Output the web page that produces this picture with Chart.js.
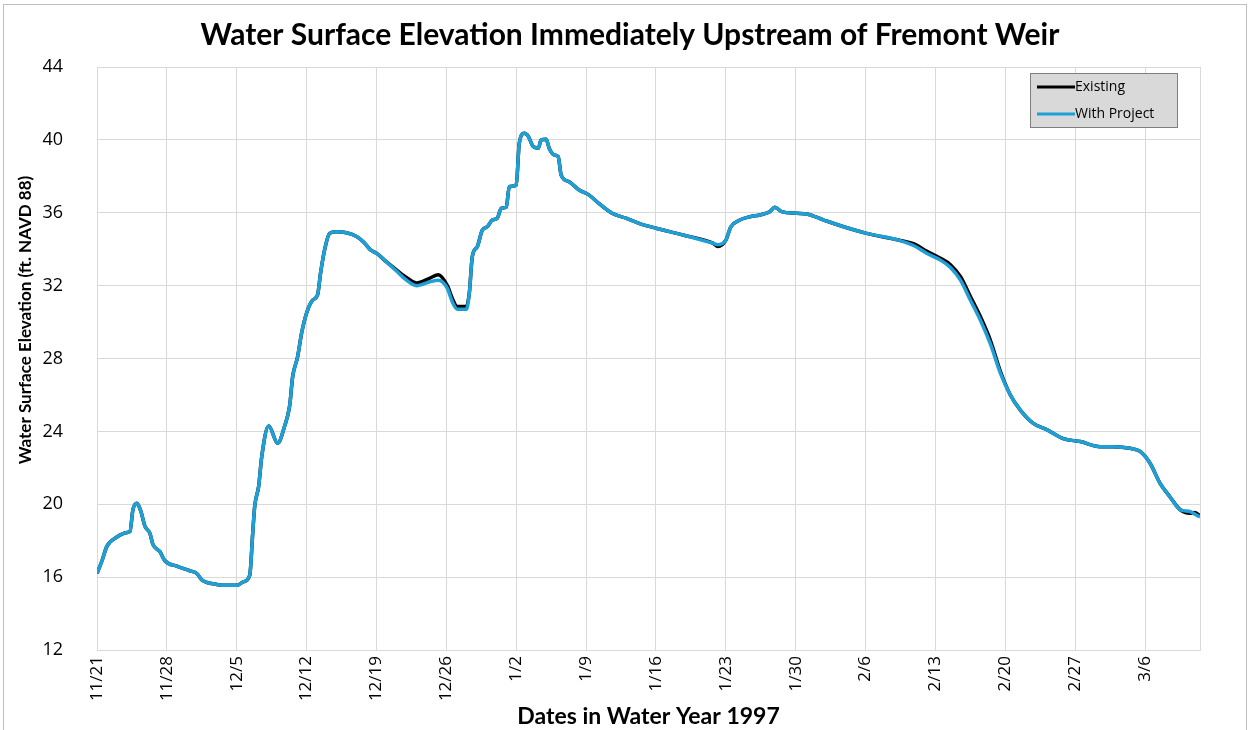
<!DOCTYPE html>
<html>
<head>
<meta charset="utf-8">
<title>Water Surface Elevation Immediately Upstream of Fremont Weir</title>
<script src="https://cdn.jsdelivr.net/npm/chart.js@4.4.1/dist/chart.umd.min.js"></script>
<style>
  html, body { margin: 0; padding: 0; background: #fff; overflow: hidden; }
  #chartWse { display: block; }
</style>
</head>
<body>
<canvas id="chartWse" width="1249" height="730"></canvas>
<script>
// days since 11/21/1996
const days = [
  0, 0.5, 1, 2, 3, 3.3, 3.6, 4.0, 4.4, 4.8, 5.3, 5.6, 6.3, 6.8, 8.0, 9.3, 10.0, 10.5, 12, 13, 14,
  14.7, 15.3, 15.6, 15.8, 16.2, 16.5, 17.2, 18.1, 18.8, 19.3, 19.6, 20.1, 20.5, 21.0, 21.6, 22.1,
  22.4, 22.8, 23.3, 24.0, 25.0, 26, 26.7, 27.4, 28, 29, 30, 31, 32, 33.3, 34.2, 35.1, 35.6, 36.1,
  37, 37.3, 37.6, 38.1, 38.6, 39.1, 39.6, 40.1, 40.5, 41, 41.3, 42, 42.3, 42.8, 43.2, 43.7, 44.2,
  44.5, 45, 45.3, 45.8, 46.2, 46.5, 47.3, 48.3, 49.3, 50.3, 51.6, 53, 54.3, 56, 58.7, 61.7, 62.2,
  63, 63.5, 64.4, 65.4, 66.4, 67.4, 67.9, 68.6, 70.1, 71.1, 72.8, 74.8, 77.1, 80.3, 81.8, 83.1,
  84.5, 85.5, 86.5, 87.5, 88.5, 89.5, 90.5, 91.5, 92.5, 93.8, 95.2, 96.8, 98.5, 100.5, 101.8,
  103.5, 104.5, 105.5, 106.5, 107.5, 108.5, 109.5, 110, 110.5
];

const withProject = [
  16.2, 16.9, 17.7, 18.2, 18.45, 18.5, 19.7, 20.05, 19.6, 18.8, 18.4, 17.8, 17.4, 16.9, 16.6, 16.35, 16.2, 15.85, 15.6, 15.55, 15.55,
  15.75, 16.1, 18.4, 19.9, 21.0, 22.6, 24.3, 23.35, 24.3, 25.4, 27.0, 28.1, 29.4, 30.5, 31.2, 31.5,
  32.7, 33.96, 34.87, 34.96, 34.9, 34.7, 34.4, 33.96, 33.78, 33.3, 32.8, 32.3, 32.0, 32.2, 32.3, 31.85, 31.1, 30.7,
  30.7, 31.58, 33.6, 34.14, 35.05, 35.23, 35.6, 35.7, 36.25, 36.3, 37.43, 37.52, 39.8, 40.36, 40.2, 39.63, 39.54,
  40.0, 40.03, 39.54, 39.17, 39.08, 38.07, 37.7, 37.25, 36.97, 36.5, 35.97, 35.7, 35.42, 35.15, 34.78, 34.33, 34.25,
  34.5, 35.23, 35.6, 35.78, 35.88, 36.06, 36.3, 36.06, 35.97, 35.93, 35.6, 35.23, 34.87, 34.5, 34.2, 33.78,
  33.4, 33.0, 32.3, 31.2, 30.1, 28.8, 27.2, 26.0, 25.17, 24.44, 24.08, 23.6, 23.44, 23.16, 23.16,
  23.07, 22.9, 22.25, 21.15, 20.4, 19.7, 19.6, 19.45, 19.3
];

const existing = [
  16.2, 16.9, 17.7, 18.2, 18.45, 18.5, 19.7, 20.05, 19.6, 18.8, 18.4, 17.8, 17.4, 16.9, 16.6, 16.35, 16.2, 15.85, 15.6, 15.55, 15.55,
  15.75, 16.1, 18.4, 19.9, 21.0, 22.6, 24.3, 23.35, 24.3, 25.4, 27.0, 28.1, 29.4, 30.5, 31.2, 31.5,
  32.7, 33.96, 34.87, 34.96, 34.9, 34.7, 34.4, 33.96, 33.78, 33.3, 32.86, 32.45, 32.15, 32.4, 32.6, 32.0, 31.3, 30.85,
  30.85, 31.6, 33.6, 34.14, 35.05, 35.23, 35.6, 35.7, 36.25, 36.3, 37.43, 37.52, 39.8, 40.36, 40.2, 39.63, 39.54,
  40.0, 40.03, 39.54, 39.17, 39.08, 38.07, 37.7, 37.25, 36.97, 36.5, 35.97, 35.7, 35.42, 35.15, 34.78, 34.33, 34.15,
  34.5, 35.23, 35.6, 35.78, 35.88, 36.06, 36.3, 36.06, 35.97, 35.93, 35.6, 35.23, 34.87, 34.5, 34.3, 33.9,
  33.5, 33.15, 32.5, 31.4, 30.3, 29.0, 27.3, 26.0, 25.17, 24.44, 24.08, 23.6, 23.44, 23.16, 23.16,
  23.07, 22.9, 22.25, 21.15, 20.4, 19.7, 19.5, 19.55, 19.35
];

const tickDays = [0, 7, 14, 21, 28, 35, 42, 49, 56, 63, 70, 77, 84, 91, 98, 105];
const tickLabels = ['11/21', '11/28', '12/5', '12/12', '12/19', '12/26', '1/2', '1/9',
  '1/16', '1/23', '1/30', '2/6', '2/13', '2/20', '2/27', '3/6'];
const lastDay = 110.5;

const seriesNames = ['Existing', 'With Project'];
const chartTitle = 'Water Surface Elevation Immediately Upstream of Fremont Weir';
const yTitle = 'Water Surface Elevation (ft. NAVD 88)';
const blue = '#1ea0d6';

function toPoints(vals) {
  return vals.map((v, i) => ({ x: days[i], y: v }));
}

// legend box drawn inside the plot, top right
const boxLegend = {
  id: 'boxLegend',
  afterDraw(chart) {
    const ctx = chart.ctx;
    const x = 1030, y = 73, w = 147, h = 54;
    ctx.save();
    ctx.fillStyle = '#d9d9d9';
    ctx.fillRect(x, y, w, h);
    ctx.strokeStyle = '#7f7f7f';
    ctx.lineWidth = 1;
    ctx.strokeRect(x + 0.5, y + 0.5, w, h);
    const rows = [
      { label: seriesNames[0], color: '#000000', width: 3 },
      { label: seriesNames[1], color: blue, width: 3 }
    ];
    ctx.font = '14px "Open Sans"';
    ctx.textBaseline = 'middle';
    rows.forEach((r, i) => {
      const cy = y + 14 + i * 27;
      ctx.strokeStyle = r.color;
      ctx.lineWidth = r.width;
      ctx.beginPath();
      ctx.moveTo(x + 7, cy);
      ctx.lineTo(x + 45, cy);
      ctx.stroke();
      ctx.fillStyle = '#000';
      ctx.fillText(r.label, x + 45, cy);
    });
    ctx.restore();
  }
};

// chart title and y title are placed as in the original, not centred on the layout box
const titles = {
  id: 'titles',
  afterDraw(chart) {
    const ctx = chart.ctx;
    ctx.save();
    ctx.fillStyle = '#000';
    ctx.textAlign = 'center';
    ctx.textBaseline = 'middle';
    ctx.font = 'bold 30px Lato';
    ctx.fillText(chartTitle, 630, 35);
    ctx.translate(26, 320);
    ctx.rotate(-Math.PI / 2);
    ctx.font = 'bold 17px Lato';
    ctx.fillText(yTitle, 0, 0);
    ctx.restore();
  }
};

// thin outer frame like the original figure
const frame = {
  id: 'frame',
  beforeDraw(chart) {
    const ctx = chart.ctx;
    ctx.save();
    ctx.fillStyle = '#fff';
    ctx.fillRect(0, 0, chart.width, chart.height);
    ctx.strokeStyle = '#bfbfbf';
    ctx.lineWidth = 1;
    ctx.strokeRect(3.5, 4.5, chart.width - 6, chart.height + 10);
    ctx.restore();
  }
};

new Chart(document.getElementById('chartWse'), {
  type: 'line',
  data: {
    datasets: [
      {
        label: seriesNames[0],
        data: toPoints(existing),
        borderColor: '#000000',
        borderWidth: 3.5,
        pointRadius: 0,
        cubicInterpolationMode: 'monotone',
        order: 2
      },
      {
        label: seriesNames[1],
        data: toPoints(withProject),
        borderColor: blue,
        borderWidth: 3.5,
        pointRadius: 0,
        cubicInterpolationMode: 'monotone',
        order: 1
      }
    ]
  },
  options: {
    responsive: false,
    animation: false,
    devicePixelRatio: 1,
    layout: { padding: { left: 5, right: 49, top: 67, bottom: 0 } },
    plugins: {
      legend: { display: false },
      tooltip: { enabled: false },
      title: { display: false }
    },
    scales: {
      x: {
        type: 'linear',
        min: 0,
        max: lastDay,
        afterBuildTicks(axis) {
          axis.ticks = tickDays.map(v => ({ value: v })).concat([{ value: lastDay }]);
        },
        afterFit(axis) { axis.height = 80; },
        ticks: {
          autoSkip: false,
          minRotation: 90,
          maxRotation: 90,
          padding: 6,
          color: '#000',
          font: { family: 'Open Sans', size: 17 },
          callback: (v, i) => tickLabels[i] || ''
        },
        grid: { color: '#d9d9d9', lineWidth: 1, drawTicks: false },
        border: { color: '#d9d9d9' },
        title: {
          display: true,
          text: 'Dates in Water Year 1997',
          font: { family: 'Lato', size: 23, weight: 'bold' },
          color: '#000',
          padding: { top: 0, bottom: 0 }
        }
      },
      y: {
        min: 12,
        max: 44,
        afterFit(axis) { axis.width = 92; },
        ticks: {
          stepSize: 4,
          padding: 34,
          color: '#000',
          font: { family: 'Open Sans', size: 18 }
        },
        grid: { color: '#d9d9d9', lineWidth: 1, drawTicks: false },
        border: { color: '#d9d9d9' }
      }
    }
  },
  plugins: [frame, boxLegend, titles]
});
</script>
</body>
</html>
